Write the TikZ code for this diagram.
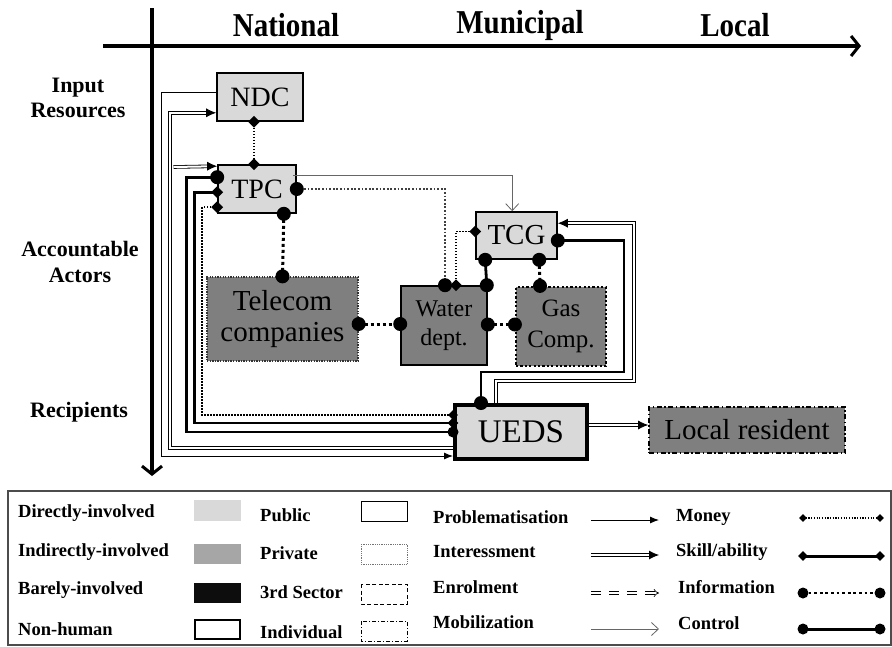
\documentclass[tikz,border=0pt]{standalone}
\usepackage{graphicx}
\usepackage{fontspec}
\setmainfont{Liberation Serif}
\usetikzlibrary{arrows.meta,shapes.geometric,calc}
\definecolor{lgray}{HTML}{D9D9D9}
\definecolor{dgray}{HTML}{7F7F7F}
\definecolor{mgray}{HTML}{A6A6A6}
\newcommand\myfs[1]{\fontsize{#1}{1.15\dimexpr#1pt\relax}\selectfont}
\newcommand\tallt[1]{\scalebox{1}[1.15]{#1}}
\begin{document}
\begin{tikzpicture}[x=1pt,y=-1pt,
  box/.style={draw, line width=1.6pt, inner sep=0pt, align=center, font=\myfs{28}},
  pubbox/.style={box, fill=lgray},
  cdot/.style={circle, fill=black, inner sep=0pt, minimum size=14pt},
  dmd/.style={diamond, fill=black, inner sep=0pt, minimum size=12pt},
  sdmd/.style={diamond, fill=black, inner sep=0pt, minimum size=8pt},
  scdot/.style={circle, fill=black, inner sep=0pt, minimum size=11pt},
  prob/.style={line width=0.9pt, -{Latex[length=9pt,width=7pt]}},
  mob/.style={line width=0.8pt, draw=black!60, -{Straight Barb[length=7pt,width=13pt,line width=0.8pt]}},
  intr/.style={double, double distance=2pt, line width=0.8pt},
  itip/.style={line width=0.8pt, -{Latex[length=10pt,width=9pt]}},
  money/.style={line width=1.5pt, dash pattern=on 1.5pt off 1.5pt},
  skill/.style={line width=2.8pt},
  info/.style={line width=3pt, dash pattern=on 3pt off 3pt},
  ctrl/.style={line width=2.8pt},
  axis/.style={line width=3.5pt, -{Straight Barb[length=8pt,width=20pt,line width=3pt]}},
  lab/.style={font=\bfseries\myfs{22}, align=center, inner sep=0pt},
  hdr/.style={font=\bfseries\myfs{29}, inner sep=0pt},
  leg/.style={font=\bfseries\myfs{18.5}, anchor=west, inner sep=0pt}
]
\useasboundingbox (0,0) rectangle (892,646);

% axes
\coordinate (vtop) at (152,8);
\coordinate (vbot) at (152,476);
\coordinate (hl) at (103,46);
\coordinate (hr) at (861,46);
\draw[axis] (vtop) -- (vbot);
\draw[axis] (hl) -- (hr);

% headers
\node[hdr] (hN) at (286,25) {\tallt{National}};
\node[hdr] (hM) at (520,25) {\tallt{Municipal}};
\node[hdr] (hL) at (735,25) {\tallt{Local}};

% row labels
\node[lab] (rI) at (78,98) {Input\\[-1pt]Resources};
\node[lab] (rA) at (80,262) {Accountable\\[1pt]Actors};
\node[lab] (rR) at (79,412) {Recipients};

% boxes
\node[pubbox, minimum width=86pt, minimum height=48pt] (NDC) at (260,97) {NDC};
\node[pubbox, minimum width=78pt, minimum height=48pt] (TPC) at (257,189) {TPC};
\node[box, fill=dgray, draw=black!80, line width=1.3pt, dash pattern=on 1.3pt off 1.3pt,
      minimum width=151pt, minimum height=84pt, font=\myfs{29}] (Tel) at (282.5,319) {Telecom\\[-2pt]companies};
\node[box, fill=dgray, minimum width=86pt, minimum height=79pt, font=\myfs{24}] (Wat) at (444,325.5) {Water\\[2pt]dept.};
\node[pubbox, minimum width=81pt, minimum height=47pt, font=\myfs{29}] (TCG) at (516.5,235.5) {TCG};
\node[box, fill=dgray, line width=2.2pt, dash pattern=on 2.2pt off 2.2pt,
      minimum width=90pt, minimum height=79pt, font=\myfs{25}] (Gas) at (561,326.5) {Gas\\[2pt]Comp.};
\node[pubbox, line width=4pt, minimum width=132pt, minimum height=54pt, font=\myfs{33}] (UEDS) at (521,432) {UEDS};
\node[box, fill=dgray, line width=1.6pt, dash pattern=on 5pt off 2.5pt on 1.5pt off 2.5pt,
      minimum width=196pt, minimum height=46pt, font=\myfs{29}] (Loc) at (747,430) {Local resident};

% marker coordinates
\coordinate (ndcB) at ($(NDC.south)+(-6,0)$);
\coordinate (tpcT) at ($(TPC.north)+(-3,0)$);
\coordinate (tpcB) at ($(TPC.south east)+(-13,0)$);
\coordinate (telT) at (Tel.north);
\coordinate (tpcR) at (TPC.east);
\coordinate (watT1) at ($(Wat.north)+(1,0)$);
\coordinate (watT2) at ($(Wat.north)+(12,0)$);
\coordinate (watT3) at ($(Wat.north east)+(-1,0)$);
\coordinate (tcgL) at ($(TCG.west)+(0,-4)$);
\coordinate (tcgB1) at ($(TCG.south west)+(10,0)$);
\coordinate (tcgB2) at ($(TCG.south west)+(64,0)$);
\coordinate (gasT) at ($(Gas.north)+(-21,0)$);
\coordinate (telR) at ($(Tel.east)+(0,5)$);
\coordinate (watL) at ($(Wat.west)+(0,-1.5)$);
\coordinate (watR) at ($(Wat.east)+(0,-1)$);
\coordinate (gasL) at ($(Gas.west)+(0,-2)$);
\coordinate (tcgR) at ($(TCG.east)+(0,5)$);
\coordinate (tcgR2) at ($(TCG.north east)+(0,12)$);
\coordinate (uedsT1) at ($(UEDS.north west)+(28,0)$);
\coordinate (uedsT2) at ($(UEDS.north west)+(43,0)$);
\coordinate (tpcL1) at ($(TPC.north west)+(0,13)$);
\coordinate (tpcL2) at ($(TPC.north west)+(0,28)$);
\coordinate (tpcL3) at ($(TPC.north west)+(0,43)$);
\coordinate (tpcTL) at ($(TPC.north west)+(0,2)$);
\coordinate (uedsL1) at ($(UEDS.north west)+(0,12)$);
\coordinate (uedsL2) at ($(UEDS.north west)+(0,20)$);
\coordinate (uedsL3) at ($(UEDS.north west)+(0,29)$);
\coordinate (uedsL4) at ($(UEDS.south west)+(0,-13)$);
\coordinate (uedsL5) at ($(UEDS.south west)+(0,-5)$);
\coordinate (ndcL1) at ($(NDC.north west)+(0,20)$);
\coordinate (ndcL2) at ($(NDC.south west)+(0,-9)$);
\coordinate (uedsR) at ($(UEDS.east)+(0,-7)$);
\coordinate (locL) at ($(Loc.west)+(0,-5)$);
\coordinate (tpcM) at ($(TPC.north east)+(-4,11)$);
\coordinate (tcgT) at ($(TCG.north west)+(37,0)$);
\coordinate (bx) at (173.5,167);

% connectors in the diagram
\draw[money] (ndcB) -- (tpcT);
\draw[info] (tpcB) -- (telT);
\draw[line width=1.8pt, draw=black!75, dash pattern=on 1.8pt off 1.8pt] (tpcR) -| (watT1);
\draw[money] (watT2) |- (tcgL);
\draw[ctrl] (tcgB1) -- (watT3);
\draw[info] (tcgB2) -- (gasT);
\draw[info] (telR) -- (watL);
\draw[info] (watR) -- (gasL);
\draw[ctrl] (tcgR) -| ($(UEDS.north west)+(171,-31)$) -| (uedsT1);
\draw[intr, shorten >=9pt] (uedsT2) |- ($(UEDS.north west)+(181,-22)$) |- (tcgR2);
\draw[itip] ($(tcgR2)+(2,0)$) -- (tcgR2);
\draw[mob] (tpcM) -| (tcgT);
\draw[intr, shorten >=9pt] (uedsR) -- (locL);
\draw[itip] ($(locL)+(-2,0)$) -- (locL);

% left-side connectors
\draw[prob] (ndcL1) -- ++(-55,0) |- (uedsL5);
\draw[intr, shorten >=9pt] (uedsL4) -- ++(-283,0) |- (ndcL2);
\draw[itip] ($(ndcL2)+(-2,0)$) -- (ndcL2);
\draw[intr, shorten >=9pt] (bx) -- (tpcTL);
\draw[itip] ($(tpcTL)+(-2,0)$) -- (tpcTL);
\draw[ctrl] (tpcL1) -- ++(-31,0) |- (uedsL3);
\draw[skill] (tpcL2) -- ++(-23,0) |- (uedsL2);
\draw[money] (tpcL3) -- ++(-15,0) |- (uedsL1);

% markers
\node[dmd] (m1) at (ndcB) {};
\node[dmd] (m2) at (tpcT) {};
\node[cdot] (m3) at (tpcB) {};
\node[cdot] (m4) at (telT) {};
\node[cdot] (m5) at (tpcR) {};
\node[cdot] (m6) at (watT1) {};
\node[dmd] (m7) at (watT2) {};
\node[cdot] (m8) at (watT3) {};
\node[dmd] (m9) at (tcgL) {};
\node[cdot] (m10) at (tcgB1) {};
\node[cdot] (m11) at (tcgB2) {};
\node[cdot] (m12) at (gasT) {};
\node[cdot] (m13) at (telR) {};
\node[cdot] (m14) at (watL) {};
\node[cdot] (m15) at (watR) {};
\node[cdot] (m16) at (gasL) {};
\node[cdot] (m17) at (tcgR) {};
\node[cdot] (m18) at (uedsT1) {};
\node[cdot] (m19) at (tpcL1) {};
\node[dmd] (m20) at (tpcL2) {};
\node[dmd] (m21) at (tpcL3) {};
\node[dmd, minimum size=10pt] (m22) at (uedsL1) {};
\node[dmd, minimum size=11pt] (m23) at (uedsL2) {};
\node[cdot, minimum size=11pt] (m24) at (uedsL3) {};

% legend frame
\draw[line width=1.5pt, draw=black!70] (8,491) rectangle (891,645);

% legend column 1
\node[leg] (l1) at (18,513) {Directly-involved};
\node[leg] (l2) at (18,552) {Indirectly-involved};
\node[leg] (l3) at (18,590) {Barely-involved};
\node[leg] (l4) at (18,629) {Non-human};
\fill[lgray] (194,500) rectangle (241,521);
\fill[mgray] (194,544) rectangle (241,564);
\fill[black!95] (194,583) rectangle (241,603);
\draw[line width=2pt] (195,620) rectangle (240,639);

% legend column 2
\node[leg] (l5) at (260,515) {Public};
\node[leg] (l6) at (260,553) {Private};
\node[leg] (l7) at (260,592) {3rd Sector};
\node[leg] (l8) at (260,632) {Individual};
\draw[line width=1pt] (361,501) rectangle (407,521);
\draw[line width=0.9pt, draw=black!55, dash pattern=on 0.9pt off 0.9pt] (361,544) rectangle (407,564);
\draw[line width=0.9pt, dash pattern=on 4pt off 2.5pt] (361,584) rectangle (407,604);
\draw[line width=0.9pt, dash pattern=on 4pt off 2pt on 1pt off 2pt] (361,621) rectangle (407,641);

% legend column 3
\node[leg] (l9) at (433,517) {Problematisation};
\node[leg] (l10) at (433,552) {Interessment};
\node[leg] (l11) at (433,587) {Enrolment};
\node[leg] (l12) at (433,622) {Mobilization};
\coordinate (a1s) at (591,520); \coordinate (a1e) at (659,520);
\coordinate (a2s) at (591,555); \coordinate (a2e) at (659,555);
\coordinate (a3s) at (591,593); \coordinate (a3e) at (659,593);
\coordinate (a4s) at (591,629); \coordinate (a4e) at (659,629);
\draw[prob] (a1s) -- (a1e);
\draw[intr, shorten >=9pt] (a2s) -- (a2e);
\draw[itip] ($(a2e)+(-2,0)$) -- (a2e);
\draw[double, double distance=2pt, line width=0.7pt, dash pattern=on 10pt off 8pt, -{Implies}] (a3s) -- (a3e);
\draw[mob] (a4s) -- (a4e);

% legend column 4
\node[leg] (l13) at (676,517) {Money};
\node[leg] (l14) at (676,552) {Skill/ability};
\node[leg] (l15) at (678,587) {Information};
\node[leg] (l16) at (678,623) {Control};
\coordinate (b1s) at (803,518); \coordinate (b1e) at (880,518);
\coordinate (b2s) at (803,556); \coordinate (b2e) at (880,556);
\coordinate (b3s) at (803,593); \coordinate (b3e) at (880,593);
\coordinate (b4s) at (803,629); \coordinate (b4e) at (880,629);
\draw[line width=1.2pt, dash pattern=on 1.2pt off 1.5pt] (b1s) -- (b1e);
\draw[line width=3pt] (b2s) -- (b2e);
\draw[line width=2.8pt, dash pattern=on 2.8pt off 2.8pt] (b3s) -- (b3e);
\draw[line width=3pt] (b4s) -- (b4e);
\node[sdmd] (k1) at (b1s) {}; \node[sdmd] (k2) at (b1e) {};
\node[sdmd, minimum size=10pt] (k3) at (b2s) {}; \node[sdmd, minimum size=10pt] (k4) at (b2e) {};
\node[scdot] (k5) at (b3s) {}; \node[scdot] (k6) at (b3e) {};
\node[scdot] (k7) at (b4s) {}; \node[scdot] (k8) at (b4e) {};
\end{tikzpicture}
\end{document}
